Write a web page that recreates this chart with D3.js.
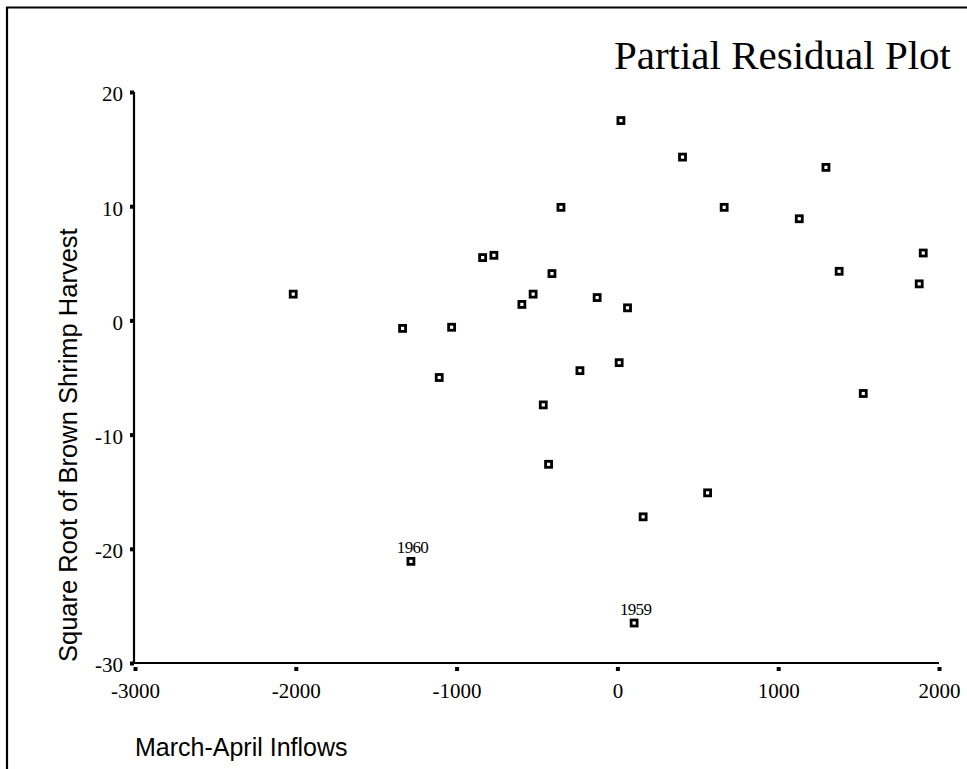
<!DOCTYPE html>
<html>
<head>
<meta charset="utf-8">
<script src="https://cdn.jsdelivr.net/npm/d3@7"></script>
<style>
  html, body { margin: 0; padding: 0; background: #fff; }
  svg { display: block; }
</style>
</head>
<body>
<svg id="chart" width="967" height="769"></svg>
<script>
// ---- data ----
const inflows = [-2016, -1336, -1031, -1108, -838, -768, -407, -524, -594, -126,
                 -233, -461, 11, 22, -351, 405, 1297, 664, 1131, 1902,
                 1379, 1877, 63, 1529, 561, 160, -428, -1284, 104];
const residuals = [2.3, -0.7, -0.6, -5.0, 5.5, 5.7, 4.1, 2.3, 1.4, 2.0,
                   -4.4, -7.4, -3.7, 17.5, 9.9, 14.3, 13.4, 9.9, 8.9, 5.9,
                   4.3, 3.2, 1.1, -6.4, -15.1, -17.2, -12.6, -21.1, -26.5];
const yearLabels = ["", "", "", "", "", "", "", "", "", "",
                    "", "", "", "", "", "", "", "", "", "",
                    "", "", "", "", "", "", "", "1960", "1959"];
const xTicks = [-3000, -2000, -1000, 0, 1000, 2000];
const yTicks = [-30, -20, -10, 0, 10, 20];
const titleText = "Partial Residual Plot";
const xTitle = "March-April Inflows";
const yTitle = "Square Root of Brown Shrimp Harvest";

const points = inflows.map((v, i) => ({x: v, y: residuals[i], label: yearLabels[i]}));

const svg = d3.select("#chart");
const serif = "'Liberation Serif', 'Times New Roman', serif";
const sans = "'Liberation Sans', Arial, Helvetica, sans-serif";

// frame (top and left edges visible)
svg.append("path")
  .attr("d", "M7,770 L7,7.5 L968,7.5")
  .attr("fill", "none").attr("stroke", "#000").attr("stroke-width", 2.2);

const x = d3.scaleLinear().domain([-3000, 2000]).range([135, 939]);
const y = d3.scaleLinear().domain([-30, 20]).range([663, 92]);

// title
svg.append("text")
  .attr("x", 951).attr("y", 69)
  .attr("text-anchor", "end")
  .attr("font-family", serif).attr("font-size", 41)
  .text(titleText);

const fmt = d => String(d);

// x axis
const gx = svg.append("g").attr("transform", "translate(0,663)")
  .call(d3.axisBottom(x).tickValues(xTicks).tickFormat(fmt).tickSize(0).tickPadding(20));
gx.select(".domain").attr("stroke-width", 2.2).attr("d", `M${x(-3000)-1},0H${x(2000)}`);
gx.selectAll(".tick line").attr("y1", 4).attr("y2", 8).attr("stroke-width", 4);
gx.selectAll(".tick text").attr("font-family", serif).attr("font-size", 21).attr("fill", "#000");

// y axis
const gy = svg.append("g").attr("transform", `translate(${x(-3000)-1},0)`)
  .call(d3.axisLeft(y).tickValues(yTicks).tickFormat(fmt).tickSize(0).tickPadding(11));
gy.select(".domain").attr("stroke-width", 2.2).attr("d", `M0,${y(20)}V${y(-30)+1}`);
gy.selectAll(".tick line").attr("x1", 0).attr("x2", -4).attr("stroke-width", 4);
gy.selectAll(".tick text").attr("font-family", serif).attr("font-size", 21)
  .attr("dy", "0.42em").attr("fill", "#000");

// axis titles
svg.append("text")
  .attr("transform", `translate(77,662) rotate(-90)`)
  .attr("text-anchor", "start")
  .attr("font-family", sans).attr("font-size", 25.5)
  .text(yTitle);

svg.append("text")
  .attr("x", 135).attr("y", 756)
  .attr("font-family", sans).attr("font-size", 25)
  .text(xTitle);

// markers
svg.append("g").selectAll("rect").data(points).join("rect")
  .attr("x", d => x(d.x) - 3).attr("y", d => y(d.y) - 3)
  .attr("width", 6).attr("height", 6)
  .attr("fill", "#fff").attr("stroke", "#000").attr("stroke-width", 2.8);

// point labels
svg.append("g").selectAll("text").data(points.filter(d => d.label)).join("text")
  .attr("x", d => x(d.x) + 1.5).attr("y", d => y(d.y) - 8)
  .attr("text-anchor", "middle")
  .attr("font-family", serif).attr("font-size", 17).attr("letter-spacing", -0.7)
  .text(d => d.label);
</script>
</body>
</html>
